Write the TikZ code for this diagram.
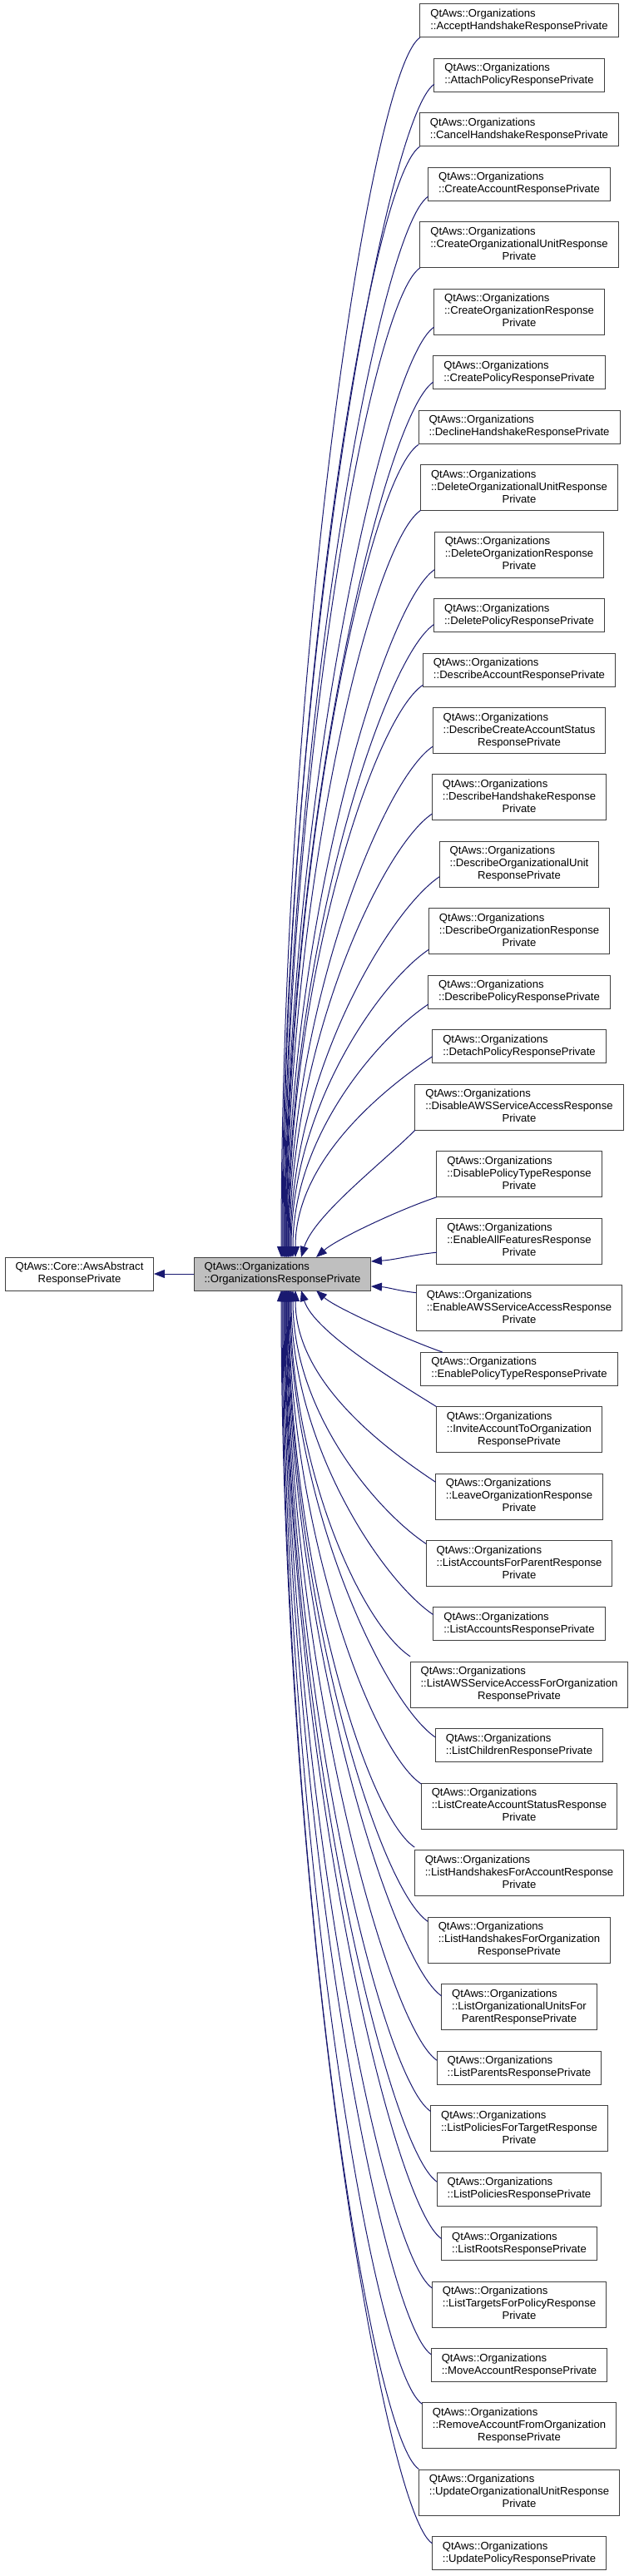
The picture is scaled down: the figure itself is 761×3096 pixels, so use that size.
\documentclass[tikz,border=0pt]{standalone}
\usepackage{fontspec}
\setmainfont{Liberation Sans}
\usetikzlibrary{arrows.meta,calc,positioning}

\definecolor{edgeblue}{HTML}{191970}
\definecolor{basegray}{HTML}{BFBFBF}

\newcommand{\clstwo}[1]{\begin{tabular}{@{}l@{}}QtAws::Organizations\\\multicolumn{1}{@{}c@{}}{#1}\end{tabular}}
\newcommand{\clsthree}[2]{\begin{tabular}{@{}l@{}}QtAws::Organizations\\#1\\\multicolumn{1}{@{}c@{}}{#2}\end{tabular}}

\begin{document}
\begin{tikzpicture}[x=1pt, y=-1pt,
    cls/.style={draw=black!75, line width=1pt, fill=white, inner xsep=12.5pt, inner ysep=5pt, outer sep=0pt,
      font=\fontsize{13.1}{15}\selectfont},
    edge/.style={draw=edgeblue, line width=1pt, -{Triangle[length=13pt,width=10pt]}}]
  \useasboundingbox (0,0) rectangle (761,3096);

  % Base classes
  \node[cls] (base) at (95.5,1531) {\begin{tabular}{@{}l@{}}QtAws::Core::AwsAbstract\\\multicolumn{1}{@{}c@{}}{ResponsePrivate}\end{tabular}};
  \node[cls, fill=basegray] (par) at (339.5,1531) {\clstwo{::OrganizationsResponsePrivate}};

  % Derived classes
  \node[cls, anchor=north] (c1) at (624,5) {\clstwo{::AcceptHandshakeResponsePrivate}};
  \node[cls, below=25.46pt of c1] (c2) {\clstwo{::AttachPolicyResponsePrivate}};
  \node[cls, below=25.46pt of c2] (c3) {\clstwo{::CancelHandshakeResponsePrivate}};
  \node[cls, below=25.46pt of c3] (c4) {\clstwo{::CreateAccountResponsePrivate}};
  \node[cls, below=25.46pt of c4] (c5) {\clsthree{::CreateOrganizationalUnitResponse}{Private}};
  \node[cls, below=25.46pt of c5] (c6) {\clsthree{::CreateOrganizationResponse}{Private}};
  \node[cls, below=25.46pt of c6] (c7) {\clstwo{::CreatePolicyResponsePrivate}};
  \node[cls, below=25.46pt of c7] (c8) {\clstwo{::DeclineHandshakeResponsePrivate}};
  \node[cls, below=25.46pt of c8] (c9) {\clsthree{::DeleteOrganizationalUnitResponse}{Private}};
  \node[cls, below=25.46pt of c9] (c10) {\clsthree{::DeleteOrganizationResponse}{Private}};
  \node[cls, below=25.46pt of c10] (c11) {\clstwo{::DeletePolicyResponsePrivate}};
  \node[cls, below=25.46pt of c11] (c12) {\clstwo{::DescribeAccountResponsePrivate}};
  \node[cls, below=25.46pt of c12] (c13) {\clsthree{::DescribeCreateAccountStatus}{ResponsePrivate}};
  \node[cls, below=25.46pt of c13] (c14) {\clsthree{::DescribeHandshakeResponse}{Private}};
  \node[cls, below=25.46pt of c14] (c15) {\clsthree{::DescribeOrganizationalUnit}{ResponsePrivate}};
  \node[cls, below=25.46pt of c15] (c16) {\clsthree{::DescribeOrganizationResponse}{Private}};
  \node[cls, below=25.46pt of c16] (c17) {\clstwo{::DescribePolicyResponsePrivate}};
  \node[cls, below=25.46pt of c17] (c18) {\clstwo{::DetachPolicyResponsePrivate}};
  \node[cls, below=25.46pt of c18] (c19) {\clsthree{::DisableAWSServiceAccessResponse}{Private}};
  \node[cls, below=25.46pt of c19] (c20) {\clsthree{::DisablePolicyTypeResponse}{Private}};
  \node[cls, below=25.46pt of c20] (c21) {\clsthree{::EnableAllFeaturesResponse}{Private}};
  \node[cls, below=25.46pt of c21] (c22) {\clsthree{::EnableAWSServiceAccessResponse}{Private}};
  \node[cls, below=25.46pt of c22] (c23) {\clstwo{::EnablePolicyTypeResponsePrivate}};
  \node[cls, below=25.46pt of c23] (c24) {\clsthree{::InviteAccountToOrganization}{ResponsePrivate}};
  \node[cls, below=25.46pt of c24] (c25) {\clsthree{::LeaveOrganizationResponse}{Private}};
  \node[cls, below=25.46pt of c25] (c26) {\clsthree{::ListAccountsForParentResponse}{Private}};
  \node[cls, below=25.46pt of c26] (c27) {\clstwo{::ListAccountsResponsePrivate}};
  \node[cls, below=25.46pt of c27] (c28) {\clsthree{::ListAWSServiceAccessForOrganization}{ResponsePrivate}};
  \node[cls, below=25.46pt of c28] (c29) {\clstwo{::ListChildrenResponsePrivate}};
  \node[cls, below=25.46pt of c29] (c30) {\clsthree{::ListCreateAccountStatusResponse}{Private}};
  \node[cls, below=25.46pt of c30] (c31) {\clsthree{::ListHandshakesForAccountResponse}{Private}};
  \node[cls, below=25.46pt of c31] (c32) {\clsthree{::ListHandshakesForOrganization}{ResponsePrivate}};
  \node[cls, below=25.46pt of c32] (c33) {\clsthree{::ListOrganizationalUnitsFor}{ParentResponsePrivate}};
  \node[cls, below=25.46pt of c33] (c34) {\clstwo{::ListParentsResponsePrivate}};
  \node[cls, below=25.46pt of c34] (c35) {\clsthree{::ListPoliciesForTargetResponse}{Private}};
  \node[cls, below=25.46pt of c35] (c36) {\clstwo{::ListPoliciesResponsePrivate}};
  \node[cls, below=25.46pt of c36] (c37) {\clstwo{::ListRootsResponsePrivate}};
  \node[cls, below=25.46pt of c37] (c38) {\clsthree{::ListTargetsForPolicyResponse}{Private}};
  \node[cls, below=25.46pt of c38] (c39) {\clstwo{::MoveAccountResponsePrivate}};
  \node[cls, below=25.46pt of c39] (c40) {\clsthree{::RemoveAccountFromOrganization}{ResponsePrivate}};
  \node[cls, below=25.46pt of c40] (c41) {\clsthree{::UpdateOrganizationalUnitResponse}{Private}};
  \node[cls, below=25.46pt of c41] (c42) {\clstwo{::UpdatePolicyResponsePrivate}};

  % Arrows
  \draw[edge] (par) -- (base);

  % classes above the parent
  \foreach \c/\dx in {c1/-1.5, c2/-0.5, c3/0.5, c4/1.5, c5/2.5, c6/3, c7/3.5, c8/4.5, c9/5,
      c10/5.5, c11/6.5, c12/7, c13/7.5, c14/8.5, c15/9.5, c16/10.5, c17/12.5, c18/15.5}
    \draw[edge] let \p1=(\c.south west), \p2=(\c.south east),
        \n1={0.55*(119pt-(\x2-\x1)/2)}, \n2={1511pt+\y1+\n1} in
      ({\x1},{\y1+\n1}) .. controls +(-60pt,-40pt) and +(0pt,{0.48*\n2}) .. ([xshift=\dx pt]par.north);

  % classes below the parent
  \foreach \c/\dx in {c25/15.5, c26/12.5, c27/10.5, c28/9.5, c29/8.5, c30/7.5, c31/7, c32/6.5, c33/5.5,
      c34/5, c35/4.5, c36/3.5, c37/3, c38/2.5, c39/1.5, c40/0.5, c41/-0.5, c42/-1.5}
    \draw[edge] let \p1=(\c.north west), \p2=(\c.north east),
        \n1={0.55*(119pt-(\x2-\x1)/2)}, \n2={-1551pt-\y1+\n1} in
      ({\x1},{\y1-\n1}) .. controls +(-60pt,40pt) and +(0pt,{-0.48*\n2}) .. ([xshift=\dx pt]par.south);

  % the near ones
  \draw[edge] (c19.south west) .. controls +(-40pt,-40pt) and +(15pt,50pt) .. ([xshift=22.5pt]par.north);
  \draw[edge] (c20.south west) .. controls +(-45pt,-15pt) and +(25pt,22pt) .. ([xshift=40.5pt]par.north);
  \draw[edge] ([yshift=14pt]c21.south west) .. controls +(-30pt,-3pt) and +(30pt,2pt) .. ([yshift=-5pt]par.north east);
  \draw[edge] ([yshift=-9pt]c22.north west) .. controls +(-20pt,2pt) and +(20pt,-1pt) .. ([yshift=5pt]par.south east);
  \draw[edge] ([xshift=26pt]c23.north west) .. controls +(-40pt,14pt) and +(25pt,-22pt) .. ([xshift=40.5pt]par.south);
  \draw[edge] (c24.north west) .. controls +(-40pt,25pt) and +(15pt,-50pt) .. ([xshift=22.5pt]par.south);
\end{tikzpicture}
\end{document}
